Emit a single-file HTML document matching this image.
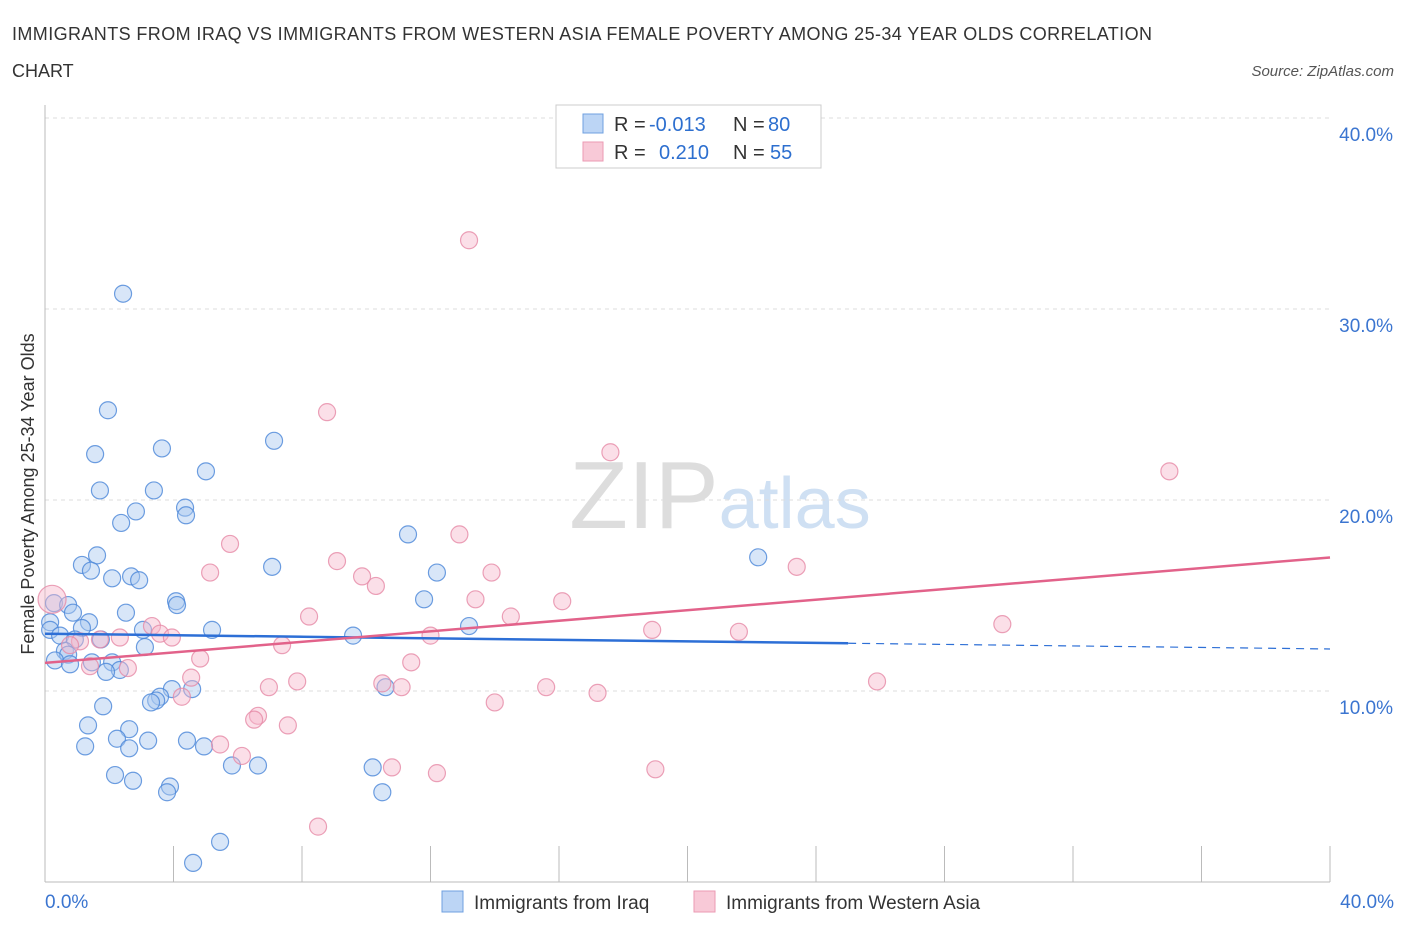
<!DOCTYPE html>
<html><head><meta charset="utf-8"><style>
body{margin:0;background:#fff;font-family:"Liberation Sans",sans-serif;}
svg text{font-family:"Liberation Sans",sans-serif;}
</style></head><body>
<svg id="chart" width="1406" height="930" xmlns="http://www.w3.org/2000/svg">
<text x="12" y="40" font-size="18" fill="#333" textLength="1140">IMMIGRANTS FROM IRAQ VS IMMIGRANTS FROM WESTERN ASIA FEMALE POVERTY AMONG 25-34 YEAR OLDS CORRELATION</text>
<text x="12" y="77" font-size="18" fill="#333">CHART</text>
<text x="1394" y="76" font-size="15" fill="#555" text-anchor="end" font-style="italic">Source: ZipAtlas.com</text>
<text x="720" y="528" font-size="96" text-anchor="middle" fill="#ddd" font-family="Liberation Serif">ZIP<tspan fill="#cfe0f3" font-family="Liberation Sans" font-size="72">atlas</tspan></text>
<g id="grid"></g><g id="axes"></g><g id="pts"></g><g id="trend"></g>
<text transform="translate(34,494) rotate(-90)" font-size="18" fill="#333" text-anchor="middle">Female Poverty Among 25-34 Year Olds</text>
<g>
<rect x="556" y="105" width="265" height="63" fill="#fff" stroke="#ccc"/>
<rect x="583" y="114" width="20" height="19" fill="#bcd5f5" stroke="#6fa0e0"/>
<rect x="583" y="142" width="20" height="19" fill="#f8c9d7" stroke="#eb9ab3"/>
<text x="614" y="131" font-size="20" fill="#333">R =</text>
<text x="649" y="131" font-size="20" fill="#2d6fcf">-0.013</text>
<text x="733" y="131" font-size="20" fill="#333">N =</text>
<text x="768" y="131" font-size="20" fill="#2d6fcf">80</text>
<text x="614" y="159" font-size="20" fill="#333">R =</text>
<text x="659" y="159" font-size="20" fill="#2d6fcf">0.210</text>
<text x="733" y="159" font-size="20" fill="#333">N =</text>
<text x="770" y="159" font-size="20" fill="#2d6fcf">55</text>
</g>
<g>
<rect x="442" y="891" width="21" height="21" fill="#bcd5f5" stroke="#6fa0e0"/>
<text x="474" y="909" font-size="19" fill="#333">Immigrants from Iraq</text>
<rect x="694" y="891" width="21" height="21" fill="#f8c9d7" stroke="#eb9ab3"/>
<text x="726" y="909" font-size="19" fill="#333">Immigrants from Western Asia</text>
</g>
</svg>
<script>
const xTicks=[0,4,8,12,16,20,24,28,32,36,40];
const yTicks=[10,20,30,40];
const iraqX=[2.43,1.96,1.56,3.64,7.13,5.01,1.71,3.39,4.36,4.39,2.83,2.37,11.3,1.62,1.15,1.43,7.07,2.68,2.09,2.93,12.2,22.2,11.8,4.08,4.11,0.28,0.72,2.52,0.87,1.37,0.16,1.15,3.05,5.2,13.2,9.59,0.16,0.47,0.93,1.74,3.11,0.62,0.72,0.31,1.46,2.09,0.78,2.33,1.9,4.58,3.95,10.6,3.58,3.46,3.3,1.81,1.34,2.62,2.24,3.21,4.42,4.95,1.25,2.62,5.82,6.63,10.2,2.18,2.74,3.89,3.8,10.5,5.45,4.61];
const iraqY=[30.8,24.7,22.4,22.7,23.1,21.5,20.5,20.5,19.6,19.2,19.4,18.8,18.2,17.1,16.6,16.3,16.5,16.0,15.9,15.8,16.2,17.0,14.8,14.7,14.5,14.6,14.5,14.1,14.1,13.6,13.6,13.3,13.2,13.2,13.4,12.9,13.2,12.9,12.7,12.7,12.3,12.1,11.9,11.6,11.5,11.5,11.4,11.1,11.0,10.1,10.1,10.2,9.7,9.5,9.4,9.2,8.2,8.0,7.5,7.4,7.4,7.1,7.1,7.0,6.1,6.1,6.0,5.6,5.3,5.0,4.7,4.7,2.1,1.0];
const waX=[13.2,8.78,17.6,35.0,12.9,5.76,9.09,23.4,5.14,13.9,9.87,10.3,13.4,16.1,8.22,14.5,29.8,0.22,18.9,21.6,3.33,3.58,2.33,3.95,12.0,1.09,1.71,0.78,7.38,4.83,11.4,1.4,2.58,4.55,7.85,25.9,6.97,10.5,11.1,15.6,17.2,4.26,14.0,6.63,6.51,7.56,5.45,6.13,10.8,12.2,19.0,8.5];
const waY=[33.6,24.6,22.5,21.5,18.2,17.7,16.8,16.5,16.2,16.2,16.0,15.5,14.8,14.7,13.9,13.9,13.5,14.8,13.2,13.1,13.4,13.0,12.8,12.8,12.9,12.6,12.7,12.4,12.4,11.7,11.5,11.3,11.2,10.7,10.5,10.5,10.2,10.4,10.2,10.2,9.9,9.7,9.4,8.7,8.5,8.2,7.2,6.6,6.0,5.7,5.9,2.9];
const iraqTrend=[13.0,-0.02]; // intercept, slope
const waTrend=[11.47,0.138];
const iraqSolidEnd=25;
const NS="http://www.w3.org/2000/svg";
const X=v=>45+v*(1285/40), Y=v=>882-v*19.1;
function mk(tag,attrs,parent){const e=document.createElementNS(NS,tag);for(const k in attrs)e.setAttribute(k,attrs[k]);document.getElementById(parent).appendChild(e);return e;}
yTicks.forEach(t=>{
 const g=mk('line',{x1:45,x2:1330,y1:Y(t),y2:Y(t),stroke:'#ddd','stroke-dasharray':'4 4'},'grid');
 
 
 const l=mk('text',{x:1393,y:Y(t)+23,'font-size':19,fill:'#3b75d0','text-anchor':'end'},'grid');
 l.textContent=t.toFixed(1)+'%';
 
 
});
const ax=mk('line',{x1:45,x2:45,y1:105,y2:882,stroke:'#bbb'},'axes');


const bx=mk('line',{x1:45,x2:1330,y1:882,y2:882,stroke:'#bbb'},'axes');


xTicks.forEach(t=>{
 const e=mk('line',{x1:X(t),x2:X(t),y1:846,y2:882,stroke:'#bbb'},'axes');
 
 
});
[[0,'start',45],[40,'end',1394]].forEach(([t,a,x])=>{
 const l=mk('text',{x:x,y:908,'font-size':19,fill:'#3b75d0','text-anchor':a},'axes');
 l.textContent=t.toFixed(1)+'%';
 
 
});
function pts(xs,ys,fill,stroke,name){xs.forEach((x,i)=>{
 const c=mk('circle',{cx:X(x),cy:Y(ys[i]),r:(name==='wa-point'&&i===17)?14:8.5,fill:fill,'fill-opacity':0.45,stroke:stroke,'stroke-opacity':0.8,'stroke-width':1.2},'pts');
 
 
});}
pts(iraqX,iraqY,'#a9c8f0','#4a86d8','iraq-point');
pts(waX,waY,'#f6b9cb','#e68aa6','wa-point');
const f=(t,x)=>t[0]+t[1]*x;
const l1=mk('line',{x1:X(0),y1:Y(f(iraqTrend,0)),x2:X(iraqSolidEnd),y2:Y(f(iraqTrend,iraqSolidEnd)),stroke:'#2d6fd6','stroke-width':2.5},'trend');


const l2=mk('line',{x1:X(iraqSolidEnd),y1:Y(f(iraqTrend,iraqSolidEnd)),x2:X(40),y2:Y(f(iraqTrend,40)),stroke:'#2d6fd6','stroke-width':1.2,'stroke-dasharray':'8 6'},'trend');


const l3=mk('line',{x1:X(0),y1:Y(f(waTrend,0)),x2:X(40),y2:Y(f(waTrend,40)),stroke:'#e2628a','stroke-width':2.5},'trend');


</script>
</body></html>
